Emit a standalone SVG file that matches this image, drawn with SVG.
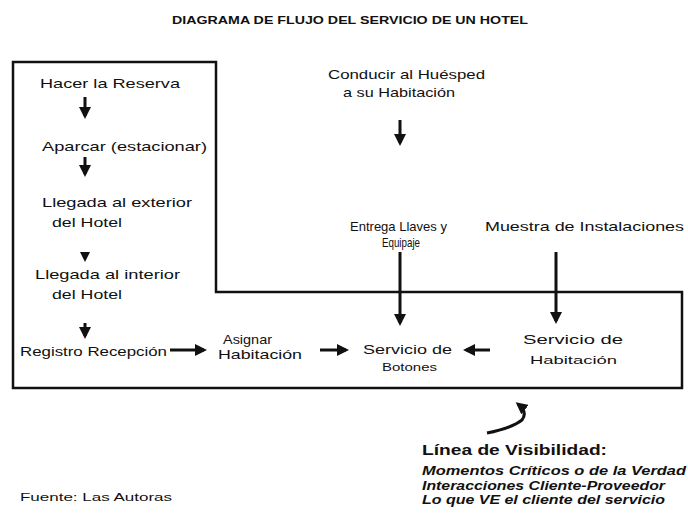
<svg xmlns="http://www.w3.org/2000/svg" width="688" height="518" viewBox="0 0 688 518">
<defs>
<style>
.t{font-family:"Liberation Sans",Arial,sans-serif;font-size:13px;fill:#111;}
.b{font-weight:bold;}
.s{font-size:11px;}
.n{font-family:"Liberation Sans",Arial,sans-serif;font-size:12px;font-style:italic;font-weight:bold;fill:#111;}
.h{font-family:"Liberation Sans",Arial,sans-serif;font-size:15px;font-weight:bold;fill:#111;}
.c{stroke:#111;stroke-width:3;fill:none;}
.vis{stroke:#111;stroke-width:2.5;fill:none;}
</style>
<marker id="ah" markerWidth="4" markerHeight="4" refX="3" refY="2" orient="auto" markerUnits="strokeWidth">
<path d="M0,0 L4,2 L0,4 Z" fill="#111"/>
</marker>
</defs>
<rect width="688" height="518" fill="#fff"/>
<text class="t b s" x="172" y="24" textLength="356" lengthAdjust="spacingAndGlyphs">DIAGRAMA DE FLUJO DEL SERVICIO DE UN HOTEL</text>
<polygon class="vis" points="13,62 216,62 216,292 682,292 682,388 13,388"/>
<g id="connectors">
<line class="c" x1="85" y1="97" x2="85" y2="116" marker-end="url(#ah)"/>
<line class="c" x1="85" y1="157" x2="85" y2="174" marker-end="url(#ah)"/>
<path d="M80,252 L90,252 L85,262 Z" fill="#111"/>
<line class="c" x1="85" y1="323" x2="85" y2="336" marker-end="url(#ah)"/>
<line class="c" x1="170" y1="350" x2="204" y2="350" marker-end="url(#ah)"/>
<line class="c" x1="320" y1="350" x2="346" y2="350" marker-end="url(#ah)"/>
<line class="c" x1="490" y1="350" x2="466" y2="350" marker-end="url(#ah)"/>
<line class="c" x1="400" y1="120" x2="400" y2="143" marker-end="url(#ah)"/>
<line class="c" x1="400" y1="252" x2="400" y2="323" marker-end="url(#ah)"/>
<line class="c" x1="556" y1="252" x2="556" y2="321" marker-end="url(#ah)"/>
<path class="c" d="M487,433 Q512,428 522,420 Q528,412 518,404" stroke-width="4" marker-end="url(#ah)"/>
</g>
<g id="n1"><text class="t" x="40" y="88" textLength="140" lengthAdjust="spacingAndGlyphs">Hacer la Reserva</text></g>
<g id="n2"><text class="t" x="42" y="151" textLength="165" lengthAdjust="spacingAndGlyphs">Aparcar (estacionar)</text></g>
<g id="n3"><text class="t" x="42" y="207" textLength="150" lengthAdjust="spacingAndGlyphs">Llegada al exterior</text><text class="t" x="52" y="227" textLength="70" lengthAdjust="spacingAndGlyphs">del Hotel</text></g>
<g id="n4"><text class="t" x="35" y="279" textLength="145" lengthAdjust="spacingAndGlyphs">Llegada al interior</text><text class="t" x="52" y="299" textLength="70" lengthAdjust="spacingAndGlyphs">del Hotel</text></g>
<g id="n5"><text class="t" x="20" y="356" textLength="147" lengthAdjust="spacingAndGlyphs">Registro Recepción</text></g>
<g id="n6"><text class="t" x="223" y="344" textLength="49" lengthAdjust="spacingAndGlyphs">Asignar</text><text class="t" x="218" y="359" textLength="84" lengthAdjust="spacingAndGlyphs">Habitación</text></g>
<g id="n7"><text class="t" x="363" y="354" textLength="89" lengthAdjust="spacingAndGlyphs">Servicio de</text><text class="t s" x="382" y="371" textLength="55" lengthAdjust="spacingAndGlyphs">Botones</text></g>
<g id="n8"><text class="t" x="523" y="344" textLength="100" lengthAdjust="spacingAndGlyphs">Servicio de</text><text class="t s" x="530" y="364" textLength="87" lengthAdjust="spacingAndGlyphs">Habitación</text></g>
<g id="n9"><text class="t" x="328" y="79" textLength="157" lengthAdjust="spacingAndGlyphs">Conducir al Huésped</text><text class="t" x="343" y="97" textLength="112" lengthAdjust="spacingAndGlyphs">a su Habitación</text></g>
<g id="n10"><text class="t" x="350" y="231" textLength="97" lengthAdjust="spacingAndGlyphs">Entrega Llaves y</text><text class="t" x="382" y="247" textLength="38" lengthAdjust="spacingAndGlyphs">Equipaje</text></g>
<g id="n11"><text class="t" x="485" y="231" textLength="199" lengthAdjust="spacingAndGlyphs">Muestra de Instalaciones</text></g>
<g id="legend">
<text class="h" x="422" y="455" textLength="185" lengthAdjust="spacingAndGlyphs">Línea de Visibilidad:</text>
<text class="n" x="422" y="475" textLength="264" lengthAdjust="spacingAndGlyphs">Momentos Críticos o de la Verdad</text>
<text class="n" x="422" y="490" textLength="243" lengthAdjust="spacingAndGlyphs">Interacciones Cliente-Proveedor</text>
<text class="n" x="422" y="504" textLength="243" lengthAdjust="spacingAndGlyphs">Lo que VE el cliente del servicio</text>
</g>
<text class="t s" x="20" y="501" textLength="152" lengthAdjust="spacingAndGlyphs">Fuente: Las Autoras</text>
</svg>
